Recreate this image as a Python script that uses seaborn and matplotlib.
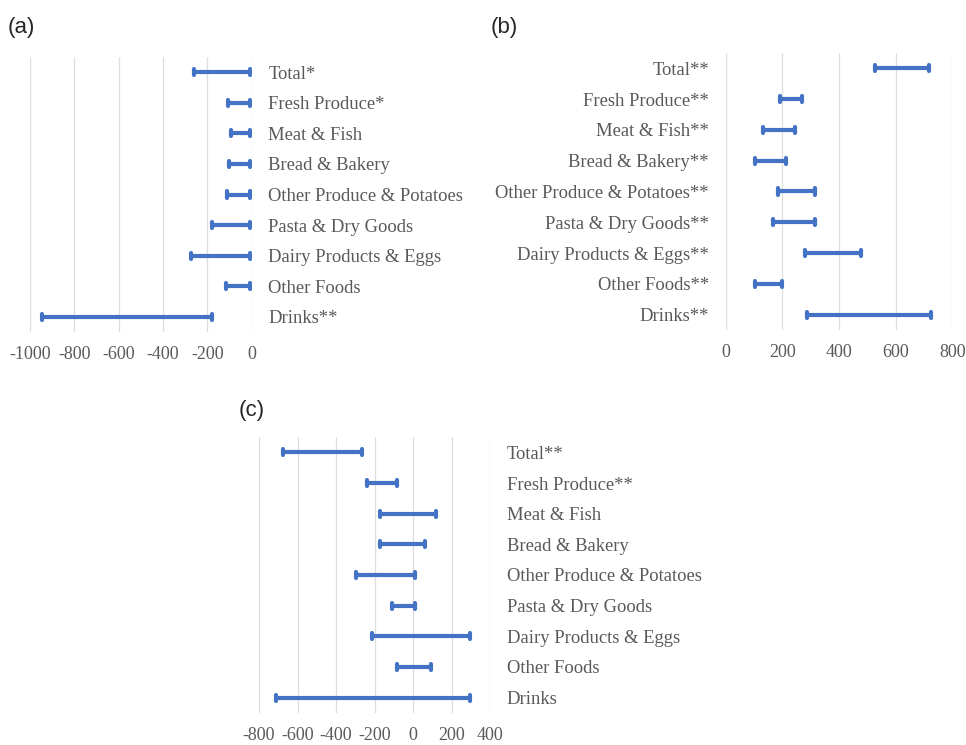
import pandas as pd
import numpy as np
import matplotlib.pyplot as plt
import seaborn as sns

# Categories (top to bottom)
cats_a = ["Total*", "Fresh Produce*", "Meat & Fish", "Bread & Bakery",
          "Other Produce & Potatoes", "Pasta & Dry Goods",
          "Dairy Products & Eggs", "Other Foods", "Drinks**"]
cats_b = ["Total**", "Fresh Produce**", "Meat & Fish**", "Bread & Bakery**",
          "Other Produce & Potatoes**", "Pasta & Dry Goods**",
          "Dairy Products & Eggs**", "Other Foods**", "Drinks**"]
cats_c = ["Total**", "Fresh Produce**", "Meat & Fish", "Bread & Bakery",
          "Other Produce & Potatoes", "Pasta & Dry Goods",
          "Dairy Products & Eggs", "Other Foods", "Drinks"]

# Interval bounds
low_a = [-262, -106, -95, -101, -111, -179, -274, -116, -944]
high_a = [-6, -6, -6, -6, -6, -6, -6, -6, -179]
low_b = [528, 192, 131, 105, 184, 167, 281, 105, 287]
high_b = [719, 271, 244, 213, 315, 315, 478, 200, 724]
low_c = [-677, -242, -174, -174, -295, -109, -216, -86, -712]
high_c = [-264, -83, 116, 63, 12, 12, 296, 92, 296]

ticks_a = [-1000, -800, -600, -400, -200, 0]
ticks_b = [0, 200, 400, 600, 800]
ticks_c = [-800, -600, -400, -200, 0, 200, 400]

BLUE = "#4472C4"
GREY = "#595959"

sns.set_theme(style="white")
plt.rcParams["font.family"] = ["Liberation Serif", "DejaVu Serif"]


def long_df(cats, low, high):
    return pd.DataFrame({
        "category": cats + cats,
        "value": low + high,
    })


def draw_panel(rect, cats, low, high, ticks, labels_right):
    ax = fig.add_axes(rect)
    df = long_df(cats, low, high)
    sns.pointplot(data=df, x="value", y="category", order=cats,
                  errorbar=("pi", 100), estimator="mean",
                  color=BLUE, linestyle="none", marker="",
                  capsize=0.2, err_kws={"linewidth": 3}, ax=ax)
    ax.set_xlim(ticks[0], ticks[-1])
    ax.set_xticks(ticks)
    ax.set_xticklabels([str(t) for t in ticks])
    ax.set_xlabel("")
    ax.set_ylabel("")
    ax.grid(axis="x", color="#dedede", linewidth=0.9)
    ax.grid(axis="y", visible=False)
    ax.set_axisbelow(True)
    for s in ax.spines.values():
        s.set_visible(False)
    if labels_right:
        ax.yaxis.tick_right()
    ax.tick_params(axis="y", length=0, pad=12, labelsize=13.4, labelcolor=GREY)
    ax.tick_params(axis="x", length=0, pad=10, labelsize=13, labelcolor=GREY)
    return ax


fig = plt.figure(figsize=(9.66, 7.45), dpi=100)

draw_panel([0.031, 0.5544, 0.2295, 0.369], cats_a, low_a, high_a, ticks_a, True)
draw_panel([0.7512, 0.557, 0.2346, 0.372], cats_b, low_b, high_b, ticks_b, False)
draw_panel([0.2681, 0.0430, 0.2394, 0.3704], cats_c, low_c, high_c, ticks_c, True)

fig.text(0.008, 0.963, "(a)", fontsize=16, family="Liberation Sans", va="center")
fig.text(0.508, 0.963, "(b)", fontsize=16, family="Liberation Sans", va="center")
fig.text(0.247, 0.449, "(c)", fontsize=16, family="Liberation Sans", va="center")

fig.savefig("out.png", dpi=100)
